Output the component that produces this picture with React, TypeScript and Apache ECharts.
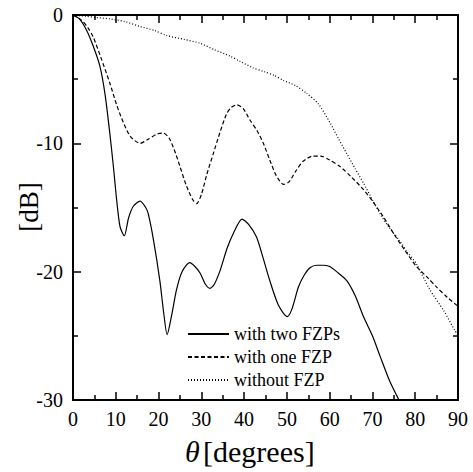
import React, { useEffect, useRef } from "react";
import * as echarts from "echarts";

const twoFzpTheta = [0, 1.5, 3.2, 4.7, 6.3, 7.5, 8.6, 9.5, 10.2, 11, 12, 13, 14.1, 15.7, 17, 17.6, 18.8, 20.3, 21.2, 22, 23, 24.2, 25.5, 27.3, 28.5, 29.7, 31, 32, 33, 34.4, 36, 37.5, 39.5, 41, 42.9, 44.5, 46, 48, 50.1, 51.2, 52.7, 54, 55.4, 57, 58.4, 60, 62, 64, 66, 67.9, 70, 71.8, 74, 76.2];
const twoFzpDb = [0, -0.3, -1.2, -2.4, -4.0, -6.2, -9.2, -12, -14.4, -16.5, -17.2, -15.8, -14.9, -14.5, -15.0, -15.5, -17.5, -20.7, -23.2, -24.9, -23.5, -21.4, -20.0, -19.3, -19.6, -20.1, -21.0, -21.3, -21.0, -19.9, -18.2, -17.0, -15.9, -16.3, -17.3, -19.0, -20.7, -22.6, -23.5, -22.9, -21.2, -20.3, -19.7, -19.5, -19.5, -19.6, -20.1, -20.7, -21.9, -23.5, -25.0, -26.6, -28.5, -30];

const oneFzpTheta = [0, 2, 3.5, 4.7, 6.5, 8.6, 10.2, 11.8, 13.5, 15.7, 17.5, 19.5, 21.1, 22.5, 24, 25, 26.5, 28, 28.9, 30, 31.3, 32.8, 34.4, 35.9, 37, 38.3, 39.8, 41.4, 43, 44.5, 46, 47.5, 49.2, 50.5, 52, 53.8, 56, 57.9, 60, 62.4, 65, 67.9, 70, 72.5, 74.9, 77.5, 80.3, 83, 85, 87.5, 90];
const oneFzpDb = [0, -0.4, -1.0, -1.7, -3.3, -5.3, -7.0, -8.4, -9.5, -10.0, -9.7, -9.3, -9.2, -9.6, -10.8, -11.8, -13.3, -14.4, -14.7, -14.0, -12.4, -10.8, -9.1, -7.7, -7.2, -7.0, -7.3, -8.2, -9.0, -10.0, -11.3, -12.5, -13.2, -13.0, -12.2, -11.4, -11.0, -11.0, -11.3, -11.8, -12.6, -13.6, -14.5, -15.7, -17.0, -18.3, -19.6, -20.5, -21.2, -22.0, -22.7];

const noFzpTheta = [0, 3, 5.5, 8.6, 12, 15.7, 19, 21.9, 26, 29.7, 33, 36.7, 39, 42, 44.5, 47, 49.2, 52, 54.6, 57.3, 60.1, 62, 64, 66, 67.9, 70, 71.8, 74, 76.4, 78, 80.3, 83.4, 86.6, 89.3, 90];
const noFzpDb = [0, -0.1, -0.2, -0.3, -0.5, -0.9, -1.2, -1.6, -1.9, -2.2, -2.7, -3.2, -3.6, -4.1, -4.4, -4.7, -5.1, -5.5, -6.1, -6.9, -8.4, -9.6, -10.8, -12.0, -13.1, -14.4, -15.5, -16.6, -17.6, -18.4, -19.4, -21.4, -23.0, -24.6, -24.9];

const seriesNames = ["with two FZPs", "with one FZP", "without FZP"];
const xTicks = { min: 0, max: 90, interval: 10 };
const yTicks = { min: -30, max: 0, interval: 10 };

const FONT = "Liberation Serif";

function pairs(xs: number[], ys: number[]) {
  return xs.map((x, i) => [x, ys[i]]);
}

export default function App() {
  const ref = useRef<HTMLDivElement>(null);
  useEffect(() => {
    if (!ref.current) return;
    document.body.style.margin = "0";
    const chart = echarts.init(ref.current, undefined, { renderer: "svg" });
    const axisLine = { show: true, onZero: false, lineStyle: { color: "#000", width: 2 } };
    const axisTick = { show: true, inside: true, length: 8, lineStyle: { color: "#000", width: 1.5 } };
    const minorTick = { show: true, splitNumber: 2, length: 5, lineStyle: { color: "#000", width: 1.5 } };
    const labelStyle = { color: "#000", fontFamily: FONT, fontSize: 20 };
    const lineCommon = { type: "line", showSymbol: false, symbol: "none", smooth: 0.25, xAxisIndex: 0, yAxisIndex: 0 };
    chart.setOption({
      animation: false,
      backgroundColor: "#fff",
      grid: { left: 73, right: 15, top: 15, bottom: 72, containLabel: false },
      legend: {
        orient: "vertical",
        left: 182,
        top: 320,
        itemWidth: 41,
        itemHeight: 14,
        itemGap: 5,
        data: seriesNames,
        itemStyle: { opacity: 0 },
        textStyle: { color: "#000", fontFamily: FONT, fontSize: 18, lineHeight: 18 },
      },
      xAxis: [
        {
          type: "value", ...xTicks, position: "bottom",
          axisLine, axisTick, minorTick, splitLine: { show: false },
          axisLabel: { ...labelStyle, margin: 9 },
        },
        {
          type: "value", ...xTicks, position: "top",
          axisLine, axisTick, minorTick, splitLine: { show: false },
          axisLabel: { show: false },
        },
      ],
      yAxis: [
        {
          type: "value", ...yTicks, position: "left",
          axisLine, axisTick, minorTick, splitLine: { show: false },
          axisLabel: { ...labelStyle, margin: 10 },
        },
        {
          type: "value", ...yTicks, position: "right",
          axisLine, axisTick, minorTick, splitLine: { show: false },
          axisLabel: { show: false },
        },
      ],
      graphic: [
        {
          type: "text",
          left: 185,
          top: 436,
          style: {
            text: "{a|θ} {b|[degrees]}",
            rich: {
              a: { fontFamily: FONT, fontSize: 30, fontStyle: "italic", fill: "#000" },
              b: { fontFamily: FONT, fontSize: 30, fill: "#000" },
            },
          },
        },
        {
          type: "text",
          x: 29,
          y: 207,
          rotation: Math.PI / 2,
          style: {
            text: "[dB]",
            fontFamily: FONT,
            fontSize: 27,
            fill: "#000",
            align: "center",
            verticalAlign: "middle",
          },
        },
      ],
      series: [
        { ...lineCommon, name: seriesNames[0], data: pairs(twoFzpTheta, twoFzpDb), lineStyle: { color: "#000", width: 1.2, type: "solid" }, itemStyle: { color: "#000" } },
        { ...lineCommon, name: seriesNames[1], data: pairs(oneFzpTheta, oneFzpDb), lineStyle: { color: "#000", width: 1.2, type: [4, 2.5] }, itemStyle: { color: "#000" } },
        { ...lineCommon, name: seriesNames[2], data: pairs(noFzpTheta, noFzpDb), lineStyle: { color: "#000", width: 1.2, type: [1, 2] }, itemStyle: { color: "#000" } },
      ],
    });
    return () => chart.dispose();
  }, []);
  return <div ref={ref} style={{ width: 473, height: 472 }} />;
}
